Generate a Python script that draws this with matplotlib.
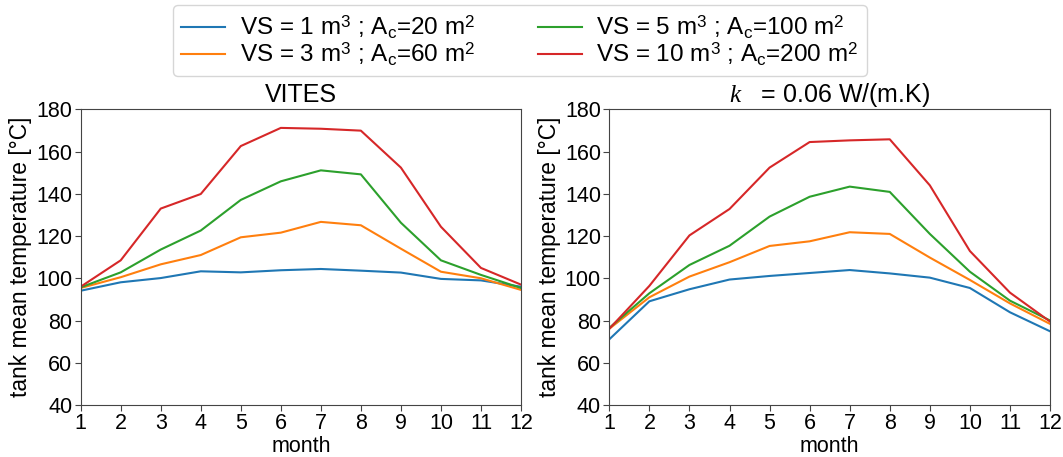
import matplotlib
matplotlib.use("Agg")
import matplotlib.pyplot as plt

plt.rcParams["font.family"] = ["Liberation Sans", "DejaVu Sans"]
plt.rcParams["mathtext.fontset"] = "custom"
plt.rcParams["mathtext.rm"] = "Liberation Sans"
plt.rcParams["mathtext.it"] = "Liberation Serif:italic"

months = list(range(1, 13))
labels = [r"VS = 1 m$^3$ ; A$_\mathrm{c}$=20 m$^2$",
          r"VS = 3 m$^3$ ; A$_\mathrm{c}$=60 m$^2$",
          r"VS = 5 m$^3$ ; A$_\mathrm{c}$=100 m$^2$",
          r"VS = 10 m$^3$ ; A$_\mathrm{c}$=200 m$^2$"]
colors = ["#1f77b4", "#ff7f0e", "#2ca02c", "#d62728"]

# VITES
vites_1 = [94.1, 98.1, 100.1, 103.3, 102.8, 103.8, 104.4, 103.6, 102.7, 99.7, 99.0, 96.0]
vites_3 = [95.4, 100.5, 106.6, 111.0, 119.4, 121.6, 126.7, 125.1, 114.0, 103.1, 100.0, 94.5]
vites_5 = [95.7, 102.8, 113.6, 122.6, 137.1, 145.9, 151.1, 149.2, 126.3, 108.5, 101.6, 95.4]
vites_10 = [96.0, 108.5, 133.0, 139.9, 162.6, 171.2, 170.8, 169.9, 152.4, 124.4, 104.9, 97.0]

# k = 0.06 W/(m.K)
k_1 = [71.1, 89.1, 94.8, 99.4, 101.1, 102.5, 103.9, 102.3, 100.3, 95.4, 83.9, 74.9]
k_3 = [76.1, 91.0, 100.8, 107.6, 115.3, 117.5, 121.8, 121.0, 109.8, 99.2, 88.1, 78.4]
k_5 = [76.5, 92.9, 106.3, 115.4, 129.2, 138.6, 143.4, 140.9, 121.0, 103.1, 89.4, 80.0]
k_10 = [76.1, 96.4, 120.3, 132.8, 152.4, 164.5, 165.3, 165.8, 144.0, 112.9, 93.2, 79.5]

panels = [("VITES", [vites_1, vites_3, vites_5, vites_10]),
          (r"$k$   = 0.06 W/(m.K)", [k_1, k_3, k_5, k_10])]

fig = plt.figure(figsize=(10.63, 4.57), dpi=100)
positions = [[0.0759, 0.1138, 0.4142, 0.647],
             [0.5732, 0.1138, 0.4146, 0.647]]

for pos, (title, series) in zip(positions, panels):
    ax = fig.add_axes(pos)
    for vals, c, lab in zip(series, colors, labels):
        ax.plot(months, vals, color=c, lw=1.5, label=lab)
    ax.set_xlim(1, 12)
    ax.set_ylim(40, 180)
    ax.set_xticks(months)
    ax.set_yticks(range(40, 181, 20))
    ax.tick_params(labelsize=15.5, length=4, color="#444444", pad=2)
    for s in ax.spines.values():
        s.set_color("#444444")
    ax.set_xlabel("month", fontsize=15.5, labelpad=1)
    ax.set_ylabel("tank mean temperature [°C]", fontsize=16.4, labelpad=3)
    ax.set_title(title, fontsize=18, pad=5)

handles, labs = ax.get_legend_handles_labels()
fig.legend(handles, labs, loc="upper center", bbox_to_anchor=(0.489, 0.989),
           ncol=2, fontsize=17.5, frameon=True, columnspacing=2.6,
           handlelength=1.8, handletextpad=0.6, borderpad=0.35,
           labelspacing=0.0, borderaxespad=0.0)

fig.savefig("out.png", dpi=100)
